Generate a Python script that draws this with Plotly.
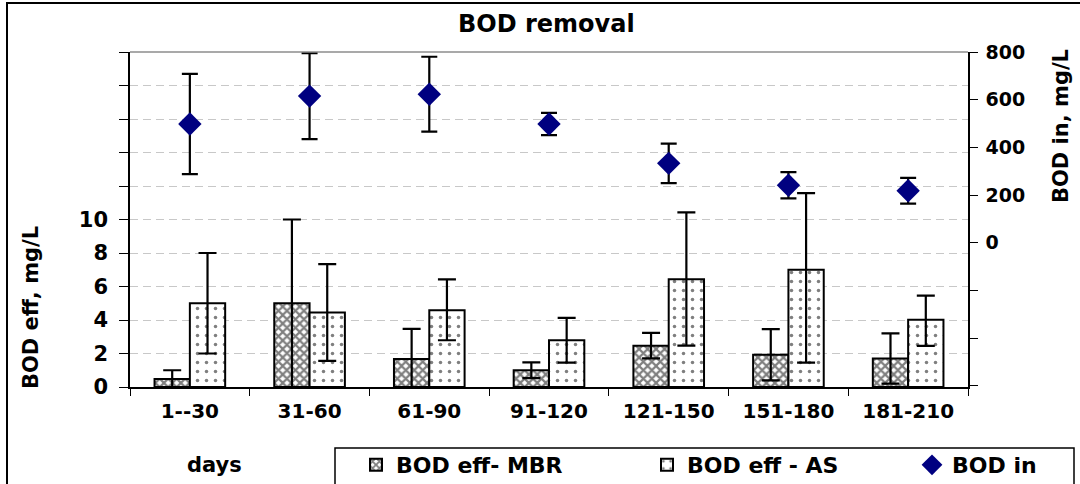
import plotly.graph_objects as go

categories = ["1--30", "31-60", "61-90", "91-120", "121-150", "151-180", "181-210"]

mbr_eff = [0.48, 5.0, 1.67, 1.0, 2.47, 1.92, 1.7]
mbr_err = [0.52, 5.0, 1.8, 0.47, 0.76, 1.53, 1.5]

as_eff = [5.0, 4.45, 4.58, 2.79, 6.43, 7.0, 4.01]
as_err_plus = [3.0, 2.88, 1.85, 1.34, 4.0, 4.57, 1.44]
as_err_minus = [3.0, 2.89, 1.79, 1.34, 3.96, 5.55, 1.56]

bod_in = [498, 615, 623, 498, 333, 241, 218]
bod_in_err = [210, 180, 157, 47, 83, 55, 54]

left_ticks = [0, 2, 4, 6, 8, 10, 12, 14, 16, 18, 20]
left_ticktext = ["0", "2", "4", "6", "8", "10", "", "", "", "", ""]
right_ticks = [-600, -400, -200, 0, 200, 400, 600, 800]
right_ticktext = ["", "", "", "0", "200", "400", "600", "800"]

FONT = "DejaVu Sans"
W, H = 1080, 484
L, R, T, B = 130, 112, 52, 97
PW, PH = W - L - R, H - T - B


def px(x):
    return (x - L) / PW


def py(y):
    return (H - B - y) / PH


fig = go.Figure()

fig.add_trace(go.Bar(
    x=categories, y=mbr_eff, name="BOD eff- MBR", legend="legend",
    marker=dict(color="white", line=dict(color="black", width=2),
                pattern=dict(shape="x", fgcolor="black", bgcolor="white",
                             size=6, solidity=0.6)),
    error_y=dict(type="data", array=mbr_err, color="black", thickness=2.2, width=9),
))
fig.add_trace(go.Bar(
    x=categories, y=as_eff, name="BOD eff - AS", legend="legend2",
    marker=dict(color="white", line=dict(color="black", width=2),
                pattern=dict(shape=".", fgcolor="black", bgcolor="white",
                             size=9, solidity=0.12)),
    error_y=dict(type="data", array=as_err_plus, arrayminus=as_err_minus,
                 color="black", thickness=2.2, width=9),
))
fig.add_trace(go.Scatter(
    x=categories, y=bod_in, name="BOD in", yaxis="y2", mode="markers", legend="legend3",
    marker=dict(symbol="diamond", size=18, color="#000080"),
    error_y=dict(type="data", array=bod_in_err, color="black", thickness=2.2, width=8),
))

legfont = dict(family=FONT, size=22, color="black", weight="bold")

legend_common = dict(orientation="h", font=legfont, bgcolor="rgba(0,0,0,0)",
                     borderwidth=0, yanchor="middle", xanchor="left", y=py(465))

fig.update_layout(
    width=W, height=H,
    margin=dict(l=L, r=R, t=T, b=B, autoexpand=False),
    paper_bgcolor="white", plot_bgcolor="white",
    barmode="group", bargap=0.41, bargroupgap=0,
    showlegend=True,
    legend=dict(x=px(356), **legend_common),
    legend2=dict(x=px(647), **legend_common),
    legend3=dict(x=px(912), **legend_common),
    xaxis=dict(
        type="category", range=[-0.5, 6.5], showline=True, linecolor="black", linewidth=1.5,
        ticks="outside", tickson="boundaries", ticklen=7, tickcolor="black", tickwidth=1,
        tickfont=dict(family=FONT, size=20, color="black", weight="bold"),
        ticklabelstandoff=5,
        showgrid=False, zeroline=False,
    ),
    yaxis=dict(
        range=[0, 20], tickvals=left_ticks, ticktext=left_ticktext,
        showline=True, linecolor="black", linewidth=1.5,
        ticks="outside", ticklen=9, tickcolor="black", tickwidth=1,
        tickfont=dict(family=FONT, size=21, color="black", weight="bold"),
        ticklabelstandoff=7,
        showgrid=True, gridcolor="#c8c8c8", gridwidth=1,
        griddash="8px,5px", zeroline=False,
    ),
    yaxis2=dict(
        range=[-605, 800], overlaying="y", side="right", anchor="x",
        tickvals=right_ticks, ticktext=right_ticktext,
        showline=True, linecolor="black", linewidth=1.5,
        ticks="outside", ticklen=8, tickcolor="black", tickwidth=1,
        tickfont=dict(family=FONT, size=19, color="black", weight="bold"),
        ticklabelstandoff=4,
        showgrid=False, zeroline=False,
    ),
    shapes=[
        dict(type="line", xref="paper", yref="paper", x0=0, x1=1, y0=1, y1=1,
             line=dict(color="#8c8c8c", width=1.5)),
        dict(type="rect", xref="paper", yref="paper", x0=px(7), x1=px(1090), y0=py(3), y1=py(520),
             line=dict(color="black", width=2)),
        dict(type="rect", xref="paper", yref="paper", x0=px(335), x1=px(1074), y0=py(520), y1=py(448),
             line=dict(color="black", width=1.5)),
    ],
    annotations=[
        dict(text="BOD removal", xref="paper", yref="paper", x=px(546), y=py(24),
             showarrow=False, xanchor="center", yanchor="middle",
             font=dict(family=FONT, size=24, color="black", weight="bold")),
        dict(text="BOD eff, mg/L", xref="paper", yref="paper", x=px(31), y=py(308),
             showarrow=False, xanchor="center", yanchor="middle", textangle=-90,
             font=dict(family=FONT, size=21, color="black", weight="bold")),
        dict(text="BOD in, mg/L", xref="paper", yref="paper", x=px(1061), y=py(126),
             showarrow=False, xanchor="center", yanchor="middle", textangle=-90,
             font=dict(family=FONT, size=21, color="black", weight="bold")),
        dict(text="days", xref="paper", yref="paper", x=px(214), y=py(465),
             showarrow=False, xanchor="center", yanchor="middle",
             font=dict(family=FONT, size=21, color="black", weight="bold")),
    ],
)

fig.write_html(
    "out.html",
    config={"displayModeBar": False},
    post_script="document.body.style.margin='0';document.body.style.padding='0';document.body.style.overflow='hidden';",
)
